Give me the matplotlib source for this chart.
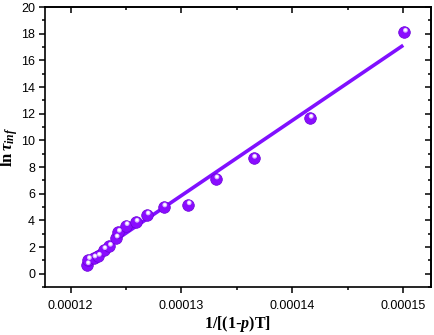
import numpy as np
import matplotlib
matplotlib.use("Agg")
import matplotlib.pyplot as plt
from matplotlib.ticker import MultipleLocator, FuncFormatter
import matplotlib.transforms as mtransforms

plt.rcParams['mathtext.fontset'] = 'custom'
plt.rcParams['mathtext.rm'] = 'Liberation Serif:bold'
plt.rcParams['mathtext.it'] = 'Liberation Serif:italic:bold'
plt.rcParams['mathtext.bf'] = 'Liberation Serif:bold'

# Data
x_data = [0.0001215, 0.0001216, 0.0001221, 0.0001225, 0.0001230, 0.0001235,
          0.0001241, 0.0001243, 0.0001250, 0.0001259, 0.0001269, 0.0001284,
          0.0001306, 0.0001331, 0.0001365, 0.0001416, 0.0001501]
y_data = [0.67, 1.05, 1.17, 1.30, 1.80, 2.05,
          2.67, 3.10, 3.60, 3.85, 4.40, 5.00,
          5.16, 7.10, 8.65, 11.65, 18.10]

# Linear fit line endpoints
fit_x = [0.0001212, 0.00015]
fit_y = [0.90, 17.13]

x_ticks = [0.00012, 0.00013, 0.00014, 0.00015]
y_ticks = [0, 2, 4, 6, 8, 10, 12, 14, 16, 18, 20]

purple = '#8a0cff'
line_col = '#8010ff'

fig = plt.figure(figsize=(4.34, 3.35), dpi=100)
ax = fig.add_axes([0.1037, 0.1433, 0.8893, 0.8357])

ax.plot(fit_x, fit_y, color=line_col, lw=2.6, solid_capstyle='butt', zorder=2)
ax.scatter(x_data, y_data, s=70, color=purple, edgecolors='#6a00d8', linewidths=0.5, zorder=3)
off = mtransforms.offset_copy(ax.transData, fig=fig, x=0.8, y=1.5, units='points')
ax.scatter(x_data, y_data, s=12, color='#d9b8ff', edgecolors='none', zorder=4, transform=off)
off2 = mtransforms.offset_copy(ax.transData, fig=fig, x=0.8, y=1.7, units='points')
ax.scatter(x_data, y_data, s=4, color='white', edgecolors='none', zorder=5, transform=off2)

ax.set_xlim(0.0001177, 0.0001525)
ax.set_ylim(-1, 20)
ax.set_xticks(x_ticks)
ax.set_yticks(y_ticks)
ax.xaxis.set_minor_locator(MultipleLocator(0.000005))
ax.yaxis.set_minor_locator(MultipleLocator(1))
ax.xaxis.set_major_formatter(FuncFormatter(lambda v, p: '%.5f' % v))

for s in ax.spines.values():
    s.set_linewidth(1.2)

ax.tick_params(which='both', direction='out', top=False, right=False, width=1.1,
               labelsize=9)
ax.tick_params(which='major', length=4.2, pad=3)
ax.tick_params(which='minor', length=2.2)
ax.tick_params(axis='x', which='major', pad=5)
for lab in ax.get_xticklabels() + ax.get_yticklabels():
    lab.set_fontfamily('Liberation Sans')

# inward ticks on top and right via secondary axes
axt = ax.secondary_xaxis('top')
axt.set_xticks(x_ticks)
axt.xaxis.set_minor_locator(MultipleLocator(0.000005))
axt.tick_params(which='both', direction='in', labeltop=False, width=1.1)
axt.tick_params(which='major', length=4.2)
axt.tick_params(which='minor', length=2.2)
axr = ax.secondary_yaxis('right')
axr.set_yticks(y_ticks)
axr.yaxis.set_minor_locator(MultipleLocator(1))
axr.tick_params(which='both', direction='in', labelright=False, width=1.1)
axr.tick_params(which='major', length=4.2)
axr.tick_params(which='minor', length=2.2)
axt.spines['top'].set_linewidth(1.2)
axr.spines['right'].set_linewidth(1.2)

fig.text(0.548, 0.032, r'$\mathrm{1/[(1}$-$\mathit{p}\mathrm{)T]}$', fontsize=11.5,
         ha='center', va='center')
fig.text(0.022, 0.56, r'$\mathrm{ln}\,\mathit{\tau}_{\mathit{inf}}$', fontsize=12,
         ha='center', va='center', rotation=90)

fig.savefig('out.png', dpi=100)
